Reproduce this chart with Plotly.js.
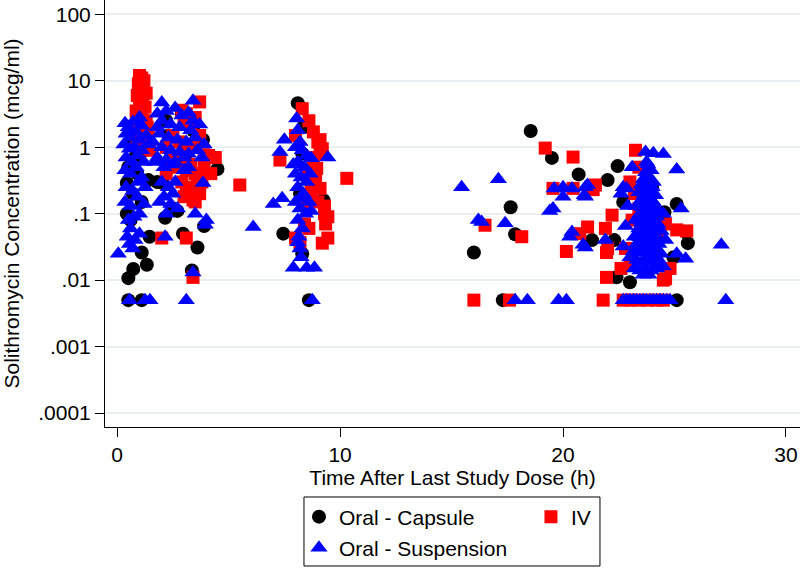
<!DOCTYPE html>
<html>
<head>
<meta charset="utf-8">
<script src="https://cdn.plot.ly/plotly-3.0.1.min.js"></script>
<style>html,body{margin:0;padding:0;background:#fff;}#chart{width:800px;height:568px;}</style>
</head>
<body>
<div id="chart"></div>
<script>
// ---- Data ----
var seriesNames = ["Oral - Capsule", "IV", "Oral - Suspension"];

var capsuleX = [0.5,0.72,1.33,1.45,1.1,0.43,0.5,1.1,0.43,0.6,1.4,1.8,0.5,1.1,0.6,0.8,1.0,0.9,0.7,1.2,
  4.5,3.85,2.9,2.05,2.5,2.15,2.95,3.6,3.35,3.9,2.3,3.1,2.6,3.4,2.2,2.7,
  8.1,8.35,7.45,8.3,9.25,8.6,8.3,8.2,
  18.55,19.5,20.7,17.65,17.85,16.0,17.3,
  22.45,22.0,22.7,23.9,24.55,25.1,25.5,25.6,24.95,23.0,21.3,22.3,22.4,25.1,23.5,23.9,24.0];
var capsuleY = [0.0107,0.0147,0.017,0.045,0.026,0.29,0.5,0.15,0.1,0.08,0.32,0.3,0.005,0.005,1.2,0.7,2.0,0.4,0.2,0.9,
  0.47,1.3,3.2,0.29,0.12,0.087,0.05,0.031,0.014,0.065,1.5,0.8,0.6,1.8,2.5,0.11,
  4.6,2.0,0.05,0.025,0.16,0.005,0.8,0.2,
  1.75,0.69,0.39,0.125,0.049,0.026,0.005,
  0.52,0.32,0.15,0.16,0.105,0.14,0.053,0.036,0.022,0.0093,0.04,0.04,0.011,0.005,0.06,0.03,0.24];

var ivX = [1.0,1.1,0.95,1.2,1.1,1.05,1.3,0.9,1.15,1.0,1.25,0.85,1.1,1.3,0.95,1.35,1.2,1.05,1.4,1.35,0.9,1.3,1.45,
  3.0,3.2,3.5,2.9,3.1,3.3,3.7,2.5,2.8,3.0,3.4,3.7,2.4,2.7,2.9,3.1,3.3,3.5,3.7,3.9,4.1,4.4,3.9,2.9,3.1,3.3,3.6,3.8,3.0,3.4,3.5,3.7,2.2,4.2,2.2,5.5,2.0,3.1,3.4,
  8.3,8.8,9.1,9.2,8.6,9.0,8.95,8.8,9.1,9.1,8.7,8.5,8.55,8.9,9.0,9.3,9.45,9.45,9.2,8.0,8.2,8.4,8.6,9.35,7.3,8.0,10.3,9.3,
  19.2,20.45,16.5,18.15,20.15,19.55,20.45,21.35,21.1,20.75,21.9,22.2,21.95,21.95,16.0,17.6,
  23.25,21.45,23.0,23.2,23.4,23.1,22.0,24.6,24.8,25.1,25.55,23.0,24.2,24.5,24.6,24.3,22.8,23.5,22.6,23.4,
  21.8,22.7,23.0,23.4,23.8,24.2,24.5];
var ivY = [12,11,9,10,8,7.5,6.5,6,5.5,4.5,4,3.5,3,2.5,2.2,2,1.8,1.5,1.6,1.3,1.2,1.0,0.9,
  2.6,2.3,2.8,3.6,3.2,2.0,4.8,1.5,1.2,1.0,1.1,1.5,0.7,0.5,0.6,0.45,0.55,0.4,0.35,0.5,0.75,0.7,0.77,0.3,0.25,0.22,0.28,0.3,0.18,0.16,0.15,0.2,0.4,0.4,1.0,0.27,0.043,0.043,0.011,
  3.8,1.7,1.3,0.95,2.5,1.2,0.48,0.7,0.8,0.24,0.22,0.45,0.13,0.35,0.15,0.1,0.09,0.043,0.036,0.043,0.037,0.07,0.06,0.07,0.64,1.5,0.34,0.13,
  0.97,0.71,0.067,0.045,0.027,0.24,0.24,0.23,0.063,0.05,0.06,0.095,0.026,0.011,0.005,0.005,
  0.9,0.27,0.3,0.2,0.12,0.08,0.03,0.0105,0.015,0.057,0.055,0.017,0.018,0.01,0.07,0.05,0.03,0.035,0.015,0.5,
  0.005,0.005,0.005,0.005,0.005,0.005,0.005];

var suspX = [0.05,0.35,0.5,0.7,0.9,1.1,1.0,0.4,0.6,0.85,1.0,1.3,0.3,0.55,0.8,1.1,1.4,0.4,0.65,0.9,1.2,0.35,0.6,0.85,1.1,0.4,0.7,0.95,1.25,0.35,0.6,0.9,1.2,0.5,0.75,1.0,0.6,0.45,0.8,0.55,0.7,1.0,0.55,1.25,1.47,3.1,
  2.0,2.6,3.4,1.8,2.2,2.9,3.2,3.4,2.0,2.4,2.8,3.3,3.7,1.9,2.3,2.7,3.1,3.5,3.9,2.0,2.4,2.8,3.2,3.6,1.8,2.2,2.6,3.0,3.8,2.1,2.5,3.85,3.5,4.0,3.95,6.1,2.15,3.4,2.0,2.3,2.5,2.1,2.4,2.7,2.2,2.6,1.9,3.2,3.0,1.8,1.6,1.7,
  8.05,7.5,7.3,9.45,8.7,7.0,7.4,8.7,8.3,7.9,8.5,8.85,8.75,8.1,8.2,8.0,8.3,8.1,8.4,8.0,8.25,8.5,8.1,8.35,8.0,8.2,8.45,8.1,8.3,8.15,8.1,8.2,8.25,8.6,8.5,7.9,8.65,
  15.45,17.1,16.2,16.35,17.4,19.6,20.0,20.4,21.0,20.0,20.95,19.4,19.55,20.4,20.3,20.9,21.9,21.0,17.85,18.4,19.8,20.15,
  22.7,23.1,23.75,24.05,24.5,23.7,25.1,21.1,21.0,25.3,27.1,25.5,27.3,22.85,
  23.8,23.95,23.7,23.6,23.85,24.05,23.5,23.75,24.0,23.4,23.65,23.9,24.15,23.5,23.8,24.05,
  23.3,23.55,23.8,24.05,24.3,23.45,23.7,23.95,24.2,23.25,23.5,23.75,24.0,24.25,23.4,23.65,23.9,24.15,24.4,
  23.2,23.45,23.7,23.95,24.2,23.3,23.55,23.8,24.05,24.3,23.15,23.4,23.65,23.9,24.15,24.4,23.3,23.55,23.8,24.05,24.3,
  23.2,23.45,23.7,23.95,24.2,23.6,23.85,
  22.9,22.8,22.7,24.6,24.5,24.5,25.1,22.6,23.0,
  22.7,22.85,23.0,23.15,23.3,23.45,23.6,23.75,23.9,24.05,24.2,24.35,24.5,24.65,24.8];
var suspY = [0.025,2.3,2.0,2.4,2.5,2.1,2.8,1.6,1.4,1.7,1.3,1.5,1.1,0.95,1.0,0.9,1.1,0.7,0.6,0.75,0.6,0.45,0.4,0.5,0.35,0.25,0.22,0.3,0.25,0.15,0.13,0.18,0.14,0.08,0.09,0.1,0.06,0.045,0.04,0.035,0.03,0.05,0.005,0.005,0.005,0.005,
  4.7,3.9,5.0,3.2,3.5,3.0,3.3,2.5,2.5,2.2,2.0,1.8,2.2,1.6,1.4,1.3,1.2,1.4,1.1,1.0,0.9,0.85,0.8,0.9,0.7,0.65,0.6,0.7,0.7,0.5,0.55,0.29,0.1,0.08,0.068,0.063,0.045,0.013,0.3,0.25,0.2,0.18,0.14,0.12,0.1,0.3,0.15,0.5,0.45,2.0,1.2,0.6,
  2.7,1.3,0.85,0.7,0.68,0.14,0.17,0.11,0.17,0.0153,0.0153,0.0153,0.005,1.8,1.2,1.0,0.9,0.6,0.5,0.4,0.35,0.3,0.25,0.2,0.15,0.12,0.1,0.08,0.06,0.045,0.037,0.03,0.022,0.15,0.75,0.55,0.4,
  0.25,0.33,0.08,0.075,0.072,0.24,0.25,0.24,0.25,0.18,0.19,0.11,0.12,0.053,0.045,0.034,0.04,0.031,0.005,0.005,0.005,0.005,
  0.25,0.5,0.6,0.81,0.79,0.85,0.46,0.27,0.18,0.12,0.034,0.021,0.005,0.24,
  0.55,0.45,0.42,0.33,0.35,0.3,0.27,0.26,0.25,0.21,0.2,0.21,0.19,0.16,0.16,0.15,
  0.13,0.125,0.12,0.12,0.11,0.1,0.095,0.1,0.09,0.08,0.075,0.078,0.075,0.07,0.06,0.058,0.06,0.057,0.055,
  0.045,0.044,0.046,0.043,0.045,0.035,0.034,0.036,0.033,0.035,0.027,0.026,0.027,0.025,0.026,0.025,0.02,0.019,0.02,0.019,0.02,
  0.015,0.014,0.015,0.014,0.015,0.012,0.012,
  0.13,0.065,0.032,0.04,0.1,0.016,0.025,0.2,0.022,
  0.005,0.005,0.005,0.005,0.005,0.005,0.005,0.005,0.005,0.005,0.005,0.005,0.005,0.005,0.005];

var yTickVals = [0.0001, 0.001, 0.01, 0.1, 1, 10, 100];
var yTickText = [".0001", ".001", ".01", ".1", "1", "10", "100"];
var xTickVals = [0, 10, 20, 30];

// ---- Styling ----
var FONT = "Liberation Sans, Arial, Helvetica, sans-serif";

var traces = [
  {type: "scatter", mode: "markers", name: seriesNames[0], x: capsuleX, y: capsuleY,
   marker: {symbol: "circle", size: 14, color: "#000000", line: {width: 0}}, legend: "legend"},
  {type: "scatter", mode: "markers", name: seriesNames[1], x: ivX, y: ivY,
   marker: {symbol: "square", size: 13, color: "#ff0000", line: {width: 0}}, legend: "legend3"},
  {type: "scatter", mode: "markers", name: seriesNames[2], x: suspX, y: suspY,
   marker: {symbol: "triangle-up", size: 15, color: "#0000ff", line: {width: 0}}, legend: "legend2"}
];

var legBase = {bgcolor: "rgba(0,0,0,0)", borderwidth: 0, font: {family: FONT, size: 21, color: "#000"},
  xanchor: "left", yanchor: "middle", itemclick: false, itemdoubleclick: false};

var layout = {
  width: 800, height: 568,
  paper_bgcolor: "#ffffff", plot_bgcolor: "#ffffff",
  margin: {l: 105, r: 0, t: 0, b: 141, autoexpand: false},
  font: {family: FONT, size: 21, color: "#000"},
  showlegend: true,
  xaxis: {
    range: [-0.547, 30.63], tickvals: xTickVals, ticks: "outside", ticklen: 9, tickwidth: 1, tickcolor: "#000",
    showline: true, linecolor: "#000", linewidth: 1, showgrid: false, zeroline: false,
    tickfont: {family: FONT, size: 21, color: "#000"},
    title: {text: "Time After Last Study Dose (h)", font: {family: FONT, size: 21, color: "#000"}, standoff: 0}
  },
  yaxis: {
    type: "log", range: [-4.21, 2.215], tickvals: yTickVals, ticktext: yTickText,
    ticks: "outside", ticklen: 9, tickwidth: 1, tickcolor: "#000",
    showline: true, linecolor: "#000", linewidth: 1, showgrid: true, gridcolor: "#e9eff1", gridwidth: 2, zeroline: false,
    tickfont: {family: FONT, size: 21, color: "#000"},
    title: {text: "Solithromycin Concentration (mcg/ml)", font: {family: FONT, size: 21, color: "#000"}, standoff: 12}
  },
  legend: Object.assign({}, legBase, {x: 0.2791, y: -0.2108}),
  legend2: Object.assign({}, legBase, {x: 0.2791, y: -0.2834}),
  legend3: Object.assign({}, legBase, {x: 0.6129, y: -0.2108}),
  shapes: [{type: "rect", xref: "paper", yref: "paper", x0: 0.2863, x1: 0.7122, y0: -0.3255, y1: -0.1639,
            line: {color: "#000", width: 1}, fillcolor: "rgba(0,0,0,0)"}]
};

Plotly.newPlot("chart", traces, layout, {displayModeBar: false, staticPlot: true});
</script>
</body>
</html>
